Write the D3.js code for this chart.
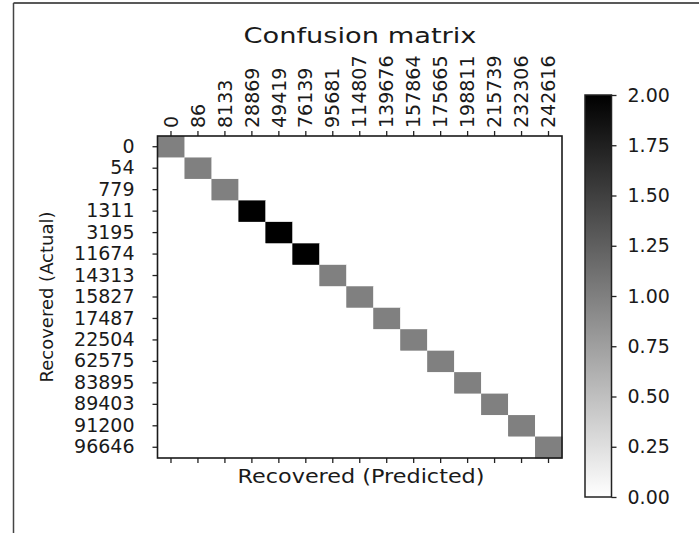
<!DOCTYPE html>
<html>
<head>
<meta charset="utf-8">
<script src="https://cdn.jsdelivr.net/npm/d3@7"></script>
<style>
  body { margin: 0; background: #fff; }
  text { font-family: "DejaVu Sans", sans-serif; fill: #1a1a1a; }
</style>
</head>
<body>
<div id="chart"></div>
<script>
// labels
const actualLabels = ["0", "54", "779", "1311", "3195", "11674", "14313", "15827", "17487", "22504", "62575", "83895", "89403", "91200", "96646"];
const predictedLabels = ["0", "86", "8133", "28869", "49419", "76139", "95681", "114807", "139676", "157864", "175665", "198811", "215739", "232306", "242616"];
// counts on the diagonal, everything else is 0
const diagCounts = [1, 1, 1, 2, 2, 2, 1, 1, 1, 1, 1, 1, 1, 1, 1];
const colorTicks = [0, 0.25, 0.5, 0.75, 1, 1.25, 1.5, 1.75, 2];

const W = 699, H = 533;
const plot = {left: 157.5, right: 562, top: 136, bottom: 458};
const cbar = {left: 585, right: 611.5, top: 95, bottom: 497};

const svg = d3.select("#chart").append("svg")
    .attr("width", W)
    .attr("height", H);

// outer border lines (top and left)
svg.append("line").attr("x1", 13.5).attr("x2", W).attr("y1", 3).attr("y2", 3)
    .attr("stroke", "#222").attr("stroke-width", 1.5);
svg.append("line").attr("x1", 13.5).attr("x2", 13.5).attr("y1", 3).attr("y2", H)
    .attr("stroke", "#444").attr("stroke-width", 1.5);

const x = d3.scaleBand().domain(predictedLabels).range([plot.left, plot.right]).padding(0);
const y = d3.scaleBand().domain(actualLabels).range([plot.top, plot.bottom]).padding(0);
const color = d3.scaleLinear().domain([0, 2]).range(["#ffffff", "#000000"]);

const cells = [];
actualLabels.forEach((a, i) => {
    predictedLabels.forEach((p, j) => {
        cells.push({actual: a, predicted: p, value: i === j ? diagCounts[i] : 0});
    });
});

svg.append("g").selectAll("rect")
    .data(cells)
    .enter().append("rect")
    .attr("x", d => x(d.predicted))
    .attr("y", d => y(d.actual))
    .attr("width", x.bandwidth() + 0.5)
    .attr("height", y.bandwidth() + 0.5)
    .attr("fill", d => color(d.value));

// top axis with labels
const xTop = svg.append("g")
    .attr("transform", "translate(0," + plot.top + ")")
    .call(d3.axisTop(x).tickSize(5).tickPadding(6).tickSizeOuter(0));
xTop.selectAll("text")
    .attr("transform", "rotate(-90)")
    .attr("x", 8).attr("y", 0)
    .attr("dy", "0.35em")
    .style("text-anchor", "start")
    .style("font-size", "19px");

// bottom axis, ticks only
svg.append("g")
    .attr("transform", "translate(0," + plot.bottom + ")")
    .call(d3.axisBottom(x).tickSize(5).tickSizeOuter(0).tickFormat(""));

// left axis
const yAxis = svg.append("g")
    .attr("transform", "translate(" + plot.left + ",0)")
    .call(d3.axisLeft(y).tickSize(5).tickPadding(18).tickSizeOuter(0));
yAxis.selectAll("text").style("font-size", "19px");

svg.selectAll(".domain").remove();
svg.selectAll(".tick line").attr("stroke", "#222").attr("stroke-width", 1.3);

// plot frame
svg.append("rect")
    .attr("x", plot.left).attr("y", plot.top)
    .attr("width", plot.right - plot.left).attr("height", plot.bottom - plot.top)
    .attr("fill", "none").attr("stroke", "#1a1a1a").attr("stroke-width", 1.6);

// titles
svg.append("text")
    .attr("x", 360).attr("y", 43)
    .attr("text-anchor", "middle")
    .attr("textLength", 233).attr("lengthAdjust", "spacingAndGlyphs")
    .style("font-size", "22px")
    .text("Confusion matrix");

svg.append("text")
    .attr("x", 361).attr("y", 483)
    .attr("text-anchor", "middle")
    .attr("textLength", 247).attr("lengthAdjust", "spacingAndGlyphs")
    .style("font-size", "19px")
    .text("Recovered (Predicted)");

svg.append("text")
    .attr("transform", "translate(53,297) rotate(-90)")
    .attr("text-anchor", "middle")
    .style("font-size", "18px")
    .text("Recovered (Actual)");

// colorbar
const defs = svg.append("defs");
const grad = defs.append("linearGradient")
    .attr("id", "cbgrad")
    .attr("x1", 0).attr("y1", 1).attr("x2", 0).attr("y2", 0);
grad.append("stop").attr("offset", "0%").attr("stop-color", color(0));
grad.append("stop").attr("offset", "100%").attr("stop-color", color(2));

svg.append("rect")
    .attr("x", cbar.left).attr("y", cbar.top)
    .attr("width", cbar.right - cbar.left).attr("height", cbar.bottom - cbar.top)
    .attr("fill", "url(#cbgrad)")
    .attr("stroke", "#222").attr("stroke-width", 1.5);

const cy = d3.scaleLinear().domain([0, 2]).range([cbar.bottom, cbar.top]);
const cAxis = svg.append("g")
    .attr("transform", "translate(" + cbar.right + ",0)")
    .call(d3.axisRight(cy).tickValues(colorTicks).tickFormat(d3.format(".2f")).tickSize(5).tickPadding(11));
cAxis.select(".domain").remove();
cAxis.selectAll(".tick line").attr("stroke", "#222").attr("stroke-width", 1.3);
cAxis.selectAll("text").style("font-size", "19px");
</script>
</body>
</html>
